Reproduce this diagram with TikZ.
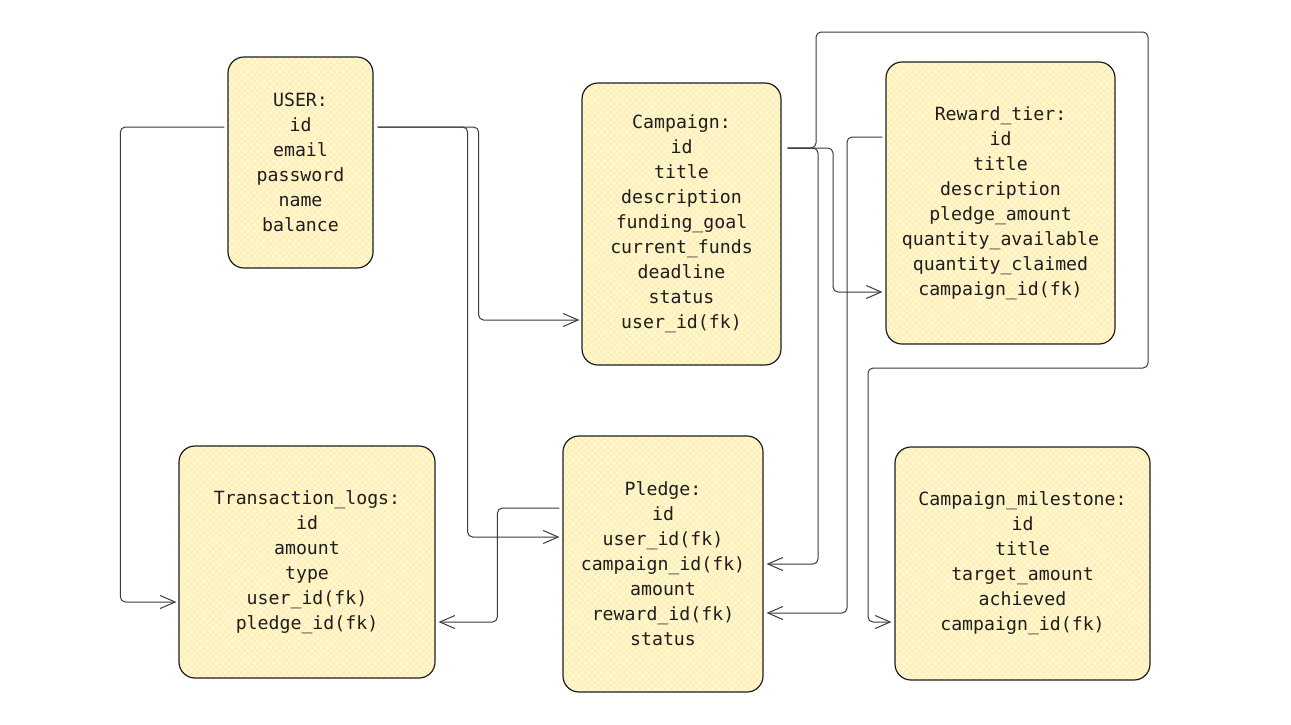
\documentclass[tikz,border=0pt]{standalone}
\usepackage{fontspec}
\setmonofont{DejaVu Sans Mono}
\usetikzlibrary{arrows.meta,patterns.meta}
\definecolor{ink}{HTML}{1E1E1E}
\definecolor{wire}{HTML}{3A3A3A}
\definecolor{boxbase}{HTML}{FFF8D8}
\definecolor{hatch}{HTML}{FFEFAF}
\tikzset{
  tbl/.style={draw=ink, line width=1.2pt, rounded corners=16pt, inner sep=0pt,
    align=center, text=ink, font=\ttfamily\fontsize{18.2}{25}\selectfont,
    preaction={fill=boxbase},
    preaction={pattern={Lines[angle=45,distance=4.5pt,line width=1.1pt]}, pattern color=hatch},
    preaction={pattern={Lines[angle=-45,distance=4.5pt,line width=1.1pt]}, pattern color=hatch}},
  conn/.style={draw=wire, line width=1pt, rounded corners=5pt,
    -{Straight Barb[length=15pt,width=13pt,line width=1pt]}}
}
\begin{document}
\begin{tikzpicture}[x=1pt,y=-1pt]
\useasboundingbox (0,0) rectangle (1291,724);
\node[tbl, minimum width=145pt, minimum height=211pt] (user) at (300.5,162.5)
  {USER:\\id\\email\\password\\name\\balance};
\node[tbl, minimum width=199pt, minimum height=282pt] (campaign) at (681.5,224)
  {Campaign:\\id\\title\\description\\funding\_goal\\current\_funds\\deadline\\status\\user\_id(fk)};
\node[tbl, minimum width=229pt, minimum height=282pt] (reward) at (1000.5,203)
  {Reward\_tier:\\id\\title\\description\\pledge\_amount\\quantity\_available\\quantity\_claimed\\campaign\_id(fk)};
\node[tbl, minimum width=256pt, minimum height=232pt] (trans) at (307,562)
  {Transaction\_logs:\\id\\amount\\type\\user\_id(fk)\\pledge\_id(fk)};
\node[tbl, minimum width=200pt, minimum height=256pt] (pledge) at (663,564)
  {Pledge:\\id\\user\_id(fk)\\campaign\_id(fk)\\amount\\reward\_id(fk)\\status};
\node[tbl, minimum width=255pt, minimum height=233pt] (milestone) at (1022.5,563.5)
  {Campaign\_milestone:\\id\\title\\target\_amount\\achieved\\campaign\_id(fk)};

% USER -> Transaction_logs
\draw[conn] ([xshift=-3pt,yshift=35.5pt]user.west) -- ++(-104,0) |- ([xshift=-2pt,yshift=-40pt]trans.west);
% USER -> Campaign
\draw[conn] ([xshift=4pt,yshift=35.5pt]user.east) -- ++(101,0) |- ([xshift=-2pt,yshift=-96pt]campaign.west);
% USER -> Pledge
\draw[conn] ([xshift=4pt,yshift=35.5pt]user.east) -- ++(90,0) |- ([xshift=-3pt,yshift=27pt]pledge.west);
% Pledge -> Transaction_logs
\draw[conn] ([xshift=-3pt,yshift=56pt]pledge.west) -- ++(-62,0) |- ([xshift=3pt,yshift=-60pt]trans.east);
% Campaign -> Campaign_milestone
\draw[conn] ([xshift=6pt,yshift=76pt]campaign.east) -| (816,32) -| (1148,368) -| (868,622) -- ([xshift=-3pt,yshift=-58.5pt]milestone.west);
% Campaign -> Reward_tier
\draw[conn] ([xshift=6pt,yshift=76pt]campaign.east) -| (833,292) -- ([xshift=-3pt,yshift=-89pt]reward.west);
% Campaign -> Pledge
\draw[conn] ([xshift=6pt,yshift=76pt]campaign.east) -| (818,564) -- ([xshift=3pt]pledge.east);
% Reward_tier -> Pledge
\draw[conn] ([xshift=-3pt,yshift=66pt]reward.west) -| (847,613) -- ([xshift=3pt,yshift=-49pt]pledge.east);
\end{tikzpicture}
\end{document}
